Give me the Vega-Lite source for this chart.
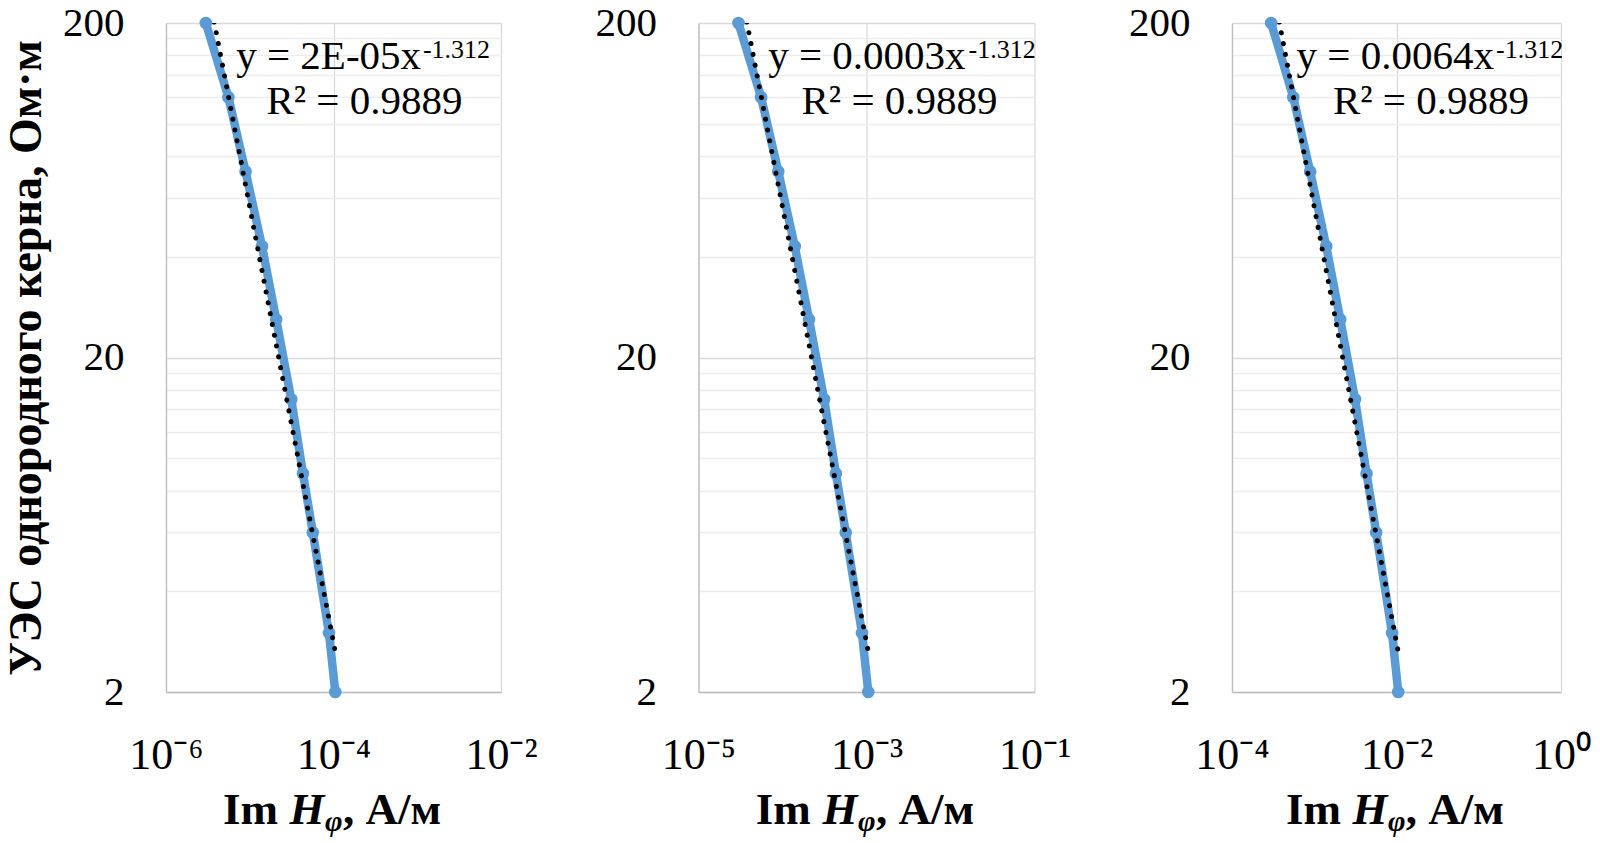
{
  "$schema": "https://vega.github.io/schema/vega-lite/v6.json",
  "padding": {"left": 3, "top": 2, "right": 5, "bottom": 4},
  "background": "#ffffff",
  "bounds": "flush",
  "spacing": 197.5,
  "datasets": {
    "p1": [
      {"im_h": 2.99e-6, "res": 200}, {"im_h": 5.56e-6, "res": 120}, {"im_h": 8.91e-6, "res": 72},
      {"im_h": 1.40e-5, "res": 43}, {"im_h": 2.07e-5, "res": 26}, {"im_h": 3.13e-5, "res": 15},
      {"im_h": 4.32e-5, "res": 9}, {"im_h": 5.66e-5, "res": 6}, {"im_h": 8.83e-5, "res": 3},
      {"im_h": 1.05e-4, "res": 2}
    ],
    "p2": [
      {"im_h": 2.99e-5, "res": 200}, {"im_h": 5.56e-5, "res": 120}, {"im_h": 8.91e-5, "res": 72},
      {"im_h": 1.40e-4, "res": 43}, {"im_h": 2.07e-4, "res": 26}, {"im_h": 3.13e-4, "res": 15},
      {"im_h": 4.32e-4, "res": 9}, {"im_h": 5.66e-4, "res": 6}, {"im_h": 8.83e-4, "res": 3},
      {"im_h": 1.05e-3, "res": 2}
    ],
    "p3": [
      {"im_h": 2.99e-4, "res": 200}, {"im_h": 5.56e-4, "res": 120}, {"im_h": 8.91e-4, "res": 72},
      {"im_h": 1.40e-3, "res": 43}, {"im_h": 2.07e-3, "res": 26}, {"im_h": 3.13e-3, "res": 15},
      {"im_h": 4.32e-3, "res": 9}, {"im_h": 5.66e-3, "res": 6}, {"im_h": 8.83e-3, "res": 3},
      {"im_h": 1.05e-2, "res": 2}
    ]
  },
  "hconcat": [
    {
      "width": 335, "height": 669,
      "layer": [
        {
          "data": {"name": "p1"},
          "mark": {"type": "line", "color": "#5B9BD5", "strokeWidth": 8.5, "point": {"filled": true, "size": 160, "color": "#5B9BD5", "opacity": 1}},
          "encoding": {
            "x": {"field": "im_h", "type": "quantitative", "scale": {"type": "log", "domain": [1e-6, 1e-2]},
              "axis": {"values": [1e-6, 1e-4, 1e-2], "grid": true, "gridColor": "#d9d9d9", "labelExpr": "datum.value < 1e-5 ? '10⁻⁶' : datum.value < 1e-3 ? '10⁻⁴' : '10⁻²'", "labelFontSize": 44, "labelPadding": 41, "labelDx": 5, "labelBaseline": "top", "title": null}},
            "y": {"field": "res", "type": "quantitative", "scale": {"type": "log", "domain": [2, 200]},
              "axis": {"values": [2, 4, 6, 8, 10, 12, 14, 16, 18, 20, 40, 60, 80, 100, 120, 140, 160, 180, 200], "grid": true,
                "gridColor": {"condition": {"test": "datum.value == 2 || datum.value == 20 || datum.value == 200", "value": "#d9d9d9"}, "value": "#ececec"},
                "labelExpr": "datum.value == 2 || datum.value == 20 || datum.value == 200 ? datum.value + '' : ''",
                "labelFontSize": 41, "labelPadding": 42, "title": "УЭС однородного керна, Ом·м", "titleFontSize": 46, "titlePadding": 12}}
          }
        },
        {
          "data": {"name": "p1"},
          "transform": [{"regression": "res", "on": "im_h", "method": "pow"}],
          "mark": {"type": "line", "color": "#000000", "strokeWidth": 5, "strokeDash": [0.1, 10.9], "strokeCap": "round", "clip": true},
          "encoding": {
            "x": {"field": "im_h", "type": "quantitative", "scale": {"type": "log", "domain": [1e-6, 1e-2]}},
            "y": {"field": "res", "type": "quantitative", "scale": {"type": "log", "domain": [2, 200]}}
          }
        },
        {
          "data": {"values": [{"t": "y = 2E-05x"}]},
          "mark": {"type": "text", "align": "right", "baseline": "alphabetic", "font": "Liberation Serif", "fontSize": 41, "color": "#000000"},
          "encoding": {"x": {"datum": 0.00111, "type": "quantitative", "scale": {"type": "log", "domain": [1e-6, 1e-2]}}, "y": {"datum": 145.7, "type": "quantitative", "scale": {"type": "log", "domain": [2, 200]}}, "text": {"field": "t"}}
        },
        {
          "data": {"values": [{"t": "-1.312"}]},
          "mark": {"type": "text", "align": "left", "baseline": "alphabetic", "font": "Liberation Serif", "fontSize": 26, "color": "#000000"},
          "encoding": {"x": {"datum": 0.00117, "type": "quantitative", "scale": {"type": "log", "domain": [1e-6, 1e-2]}}, "y": {"datum": 157.2, "type": "quantitative", "scale": {"type": "log", "domain": [2, 200]}}, "text": {"field": "t"}}
        },
        {
          "data": {"values": [{"t": "R² = 0.9889"}]},
          "mark": {"type": "text", "align": "center", "baseline": "alphabetic", "font": "Liberation Serif", "fontSize": 41, "color": "#000000"},
          "encoding": {"x": {"datum": 0.000234, "type": "quantitative", "scale": {"type": "log", "domain": [1e-6, 1e-2]}}, "y": {"datum": 106.9, "type": "quantitative", "scale": {"type": "log", "domain": [2, 200]}}, "text": {"field": "t"}}
        },
        {
          "data": {"values": [{"t": "Im"}]},
          "mark": {"type": "text", "align": "right", "baseline": "alphabetic", "font": "Liberation Serif", "fontWeight": "bold", "fontSize": 45, "color": "#000000"},
          "encoding": {"x": {"datum": 2.17e-5, "type": "quantitative", "scale": {"type": "log", "domain": [1e-6, 1e-2]}}, "y": {"datum": 0.806, "type": "quantitative", "scale": {"type": "log", "domain": [2, 200]}}, "text": {"field": "t"}}
        },
        {
          "data": {"values": [{"t": "H"}]},
          "mark": {"type": "text", "align": "left", "baseline": "alphabetic", "font": "Liberation Serif", "fontWeight": "bold", "fontStyle": "italic", "fontSize": 45, "color": "#000000"},
          "encoding": {"x": {"datum": 2.99e-5, "type": "quantitative", "scale": {"type": "log", "domain": [1e-6, 1e-2]}}, "y": {"datum": 0.806, "type": "quantitative", "scale": {"type": "log", "domain": [2, 200]}}, "text": {"field": "t"}}
        },
        {
          "data": {"values": [{"t": "φ"}]},
          "mark": {"type": "text", "align": "left", "baseline": "alphabetic", "font": "Liberation Serif", "fontWeight": "bold", "fontStyle": "italic", "fontSize": 30, "color": "#000000"},
          "encoding": {"x": {"datum": 7.91e-5, "type": "quantitative", "scale": {"type": "log", "domain": [1e-6, 1e-2]}}, "y": {"datum": 0.768, "type": "quantitative", "scale": {"type": "log", "domain": [2, 200]}}, "text": {"field": "t"}}
        },
        {
          "data": {"values": [{"t": ", А/м"}]},
          "mark": {"type": "text", "align": "left", "baseline": "alphabetic", "font": "Liberation Serif", "fontWeight": "bold", "fontSize": 45, "color": "#000000"},
          "encoding": {"x": {"datum": 1.30e-4, "type": "quantitative", "scale": {"type": "log", "domain": [1e-6, 1e-2]}}, "y": {"datum": 0.806, "type": "quantitative", "scale": {"type": "log", "domain": [2, 200]}}, "text": {"field": "t"}}
        }
      ]
    },
    {
      "width": 336, "height": 669,
      "layer": [
        {
          "data": {"name": "p2"},
          "mark": {"type": "line", "color": "#5B9BD5", "strokeWidth": 8.5, "point": {"filled": true, "size": 160, "color": "#5B9BD5", "opacity": 1}},
          "encoding": {
            "x": {"field": "im_h", "type": "quantitative", "scale": {"type": "log", "domain": [1e-5, 1e-1]},
              "axis": {"values": [1e-5, 1e-3, 1e-1], "grid": true, "gridColor": "#d9d9d9", "labelExpr": "datum.value < 1e-4 ? '10⁻⁵' : datum.value < 1e-2 ? '10⁻³' : '10⁻¹'", "labelFontSize": 44, "labelPadding": 41, "labelDx": 5, "labelBaseline": "top", "title": null}},
            "y": {"field": "res", "type": "quantitative", "scale": {"type": "log", "domain": [2, 200]},
              "axis": {"values": [2, 4, 6, 8, 10, 12, 14, 16, 18, 20, 40, 60, 80, 100, 120, 140, 160, 180, 200], "grid": true,
                "gridColor": {"condition": {"test": "datum.value == 2 || datum.value == 20 || datum.value == 200", "value": "#d9d9d9"}, "value": "#ececec"},
                "labelExpr": "datum.value == 2 || datum.value == 20 || datum.value == 200 ? datum.value + '' : ''",
                "labelFontSize": 41, "labelPadding": 42, "title": null}}
          }
        },
        {
          "data": {"name": "p2"},
          "transform": [{"regression": "res", "on": "im_h", "method": "pow"}],
          "mark": {"type": "line", "color": "#000000", "strokeWidth": 5, "strokeDash": [0.1, 10.9], "strokeCap": "round", "clip": true},
          "encoding": {
            "x": {"field": "im_h", "type": "quantitative", "scale": {"type": "log", "domain": [1e-5, 1e-1]}},
            "y": {"field": "res", "type": "quantitative", "scale": {"type": "log", "domain": [2, 200]}}
          }
        },
        {
          "data": {"values": [{"t": "y = 0.0003x"}]},
          "mark": {"type": "text", "align": "right", "baseline": "alphabetic", "font": "Liberation Serif", "fontSize": 41, "color": "#000000"},
          "encoding": {"x": {"datum": 0.0151, "type": "quantitative", "scale": {"type": "log", "domain": [1e-5, 1e-1]}}, "y": {"datum": 145.7, "type": "quantitative", "scale": {"type": "log", "domain": [2, 200]}}, "text": {"field": "t"}}
        },
        {
          "data": {"values": [{"t": "-1.312"}]},
          "mark": {"type": "text", "align": "left", "baseline": "alphabetic", "font": "Liberation Serif", "fontSize": 26, "color": "#000000"},
          "encoding": {"x": {"datum": 0.0164, "type": "quantitative", "scale": {"type": "log", "domain": [1e-5, 1e-1]}}, "y": {"datum": 157.2, "type": "quantitative", "scale": {"type": "log", "domain": [2, 200]}}, "text": {"field": "t"}}
        },
        {
          "data": {"values": [{"t": "R² = 0.9889"}]},
          "mark": {"type": "text", "align": "center", "baseline": "alphabetic", "font": "Liberation Serif", "fontSize": 41, "color": "#000000"},
          "encoding": {"x": {"datum": 0.00247, "type": "quantitative", "scale": {"type": "log", "domain": [1e-5, 1e-1]}}, "y": {"datum": 106.9, "type": "quantitative", "scale": {"type": "log", "domain": [2, 200]}}, "text": {"field": "t"}}
        },
        {
          "data": {"values": [{"t": "Im"}]},
          "mark": {"type": "text", "align": "right", "baseline": "alphabetic", "font": "Liberation Serif", "fontWeight": "bold", "fontSize": 45, "color": "#000000"},
          "encoding": {"x": {"datum": 2.17e-4, "type": "quantitative", "scale": {"type": "log", "domain": [1e-5, 1e-1]}}, "y": {"datum": 0.806, "type": "quantitative", "scale": {"type": "log", "domain": [2, 200]}}, "text": {"field": "t"}}
        },
        {
          "data": {"values": [{"t": "H"}]},
          "mark": {"type": "text", "align": "left", "baseline": "alphabetic", "font": "Liberation Serif", "fontWeight": "bold", "fontStyle": "italic", "fontSize": 45, "color": "#000000"},
          "encoding": {"x": {"datum": 2.99e-4, "type": "quantitative", "scale": {"type": "log", "domain": [1e-5, 1e-1]}}, "y": {"datum": 0.806, "type": "quantitative", "scale": {"type": "log", "domain": [2, 200]}}, "text": {"field": "t"}}
        },
        {
          "data": {"values": [{"t": "φ"}]},
          "mark": {"type": "text", "align": "left", "baseline": "alphabetic", "font": "Liberation Serif", "fontWeight": "bold", "fontStyle": "italic", "fontSize": 30, "color": "#000000"},
          "encoding": {"x": {"datum": 7.91e-4, "type": "quantitative", "scale": {"type": "log", "domain": [1e-5, 1e-1]}}, "y": {"datum": 0.768, "type": "quantitative", "scale": {"type": "log", "domain": [2, 200]}}, "text": {"field": "t"}}
        },
        {
          "data": {"values": [{"t": ", А/м"}]},
          "mark": {"type": "text", "align": "left", "baseline": "alphabetic", "font": "Liberation Serif", "fontWeight": "bold", "fontSize": 45, "color": "#000000"},
          "encoding": {"x": {"datum": 1.30e-3, "type": "quantitative", "scale": {"type": "log", "domain": [1e-5, 1e-1]}}, "y": {"datum": 0.806, "type": "quantitative", "scale": {"type": "log", "domain": [2, 200]}}, "text": {"field": "t"}}
        }
      ]
    },
    {
      "width": 329, "height": 669,
      "layer": [
        {
          "data": {"name": "p3"},
          "mark": {"type": "line", "color": "#5B9BD5", "strokeWidth": 8.5, "point": {"filled": true, "size": 160, "color": "#5B9BD5", "opacity": 1}},
          "encoding": {
            "x": {"field": "im_h", "type": "quantitative", "scale": {"type": "log", "domain": [1e-4, 1]},
              "axis": {"values": [1e-4, 1e-2, 1], "grid": true, "gridColor": "#d9d9d9", "labelExpr": "datum.value < 1e-3 ? '10⁻⁴' : datum.value < 0.1 ? '10⁻²' : '10⁰'", "labelFontSize": 44, "labelPadding": 41, "labelDx": 5, "labelBaseline": "top", "title": null}},
            "y": {"field": "res", "type": "quantitative", "scale": {"type": "log", "domain": [2, 200]},
              "axis": {"values": [2, 4, 6, 8, 10, 12, 14, 16, 18, 20, 40, 60, 80, 100, 120, 140, 160, 180, 200], "grid": true,
                "gridColor": {"condition": {"test": "datum.value == 2 || datum.value == 20 || datum.value == 200", "value": "#d9d9d9"}, "value": "#ececec"},
                "labelExpr": "datum.value == 2 || datum.value == 20 || datum.value == 200 ? datum.value + '' : ''",
                "labelFontSize": 41, "labelPadding": 42, "title": null}}
          }
        },
        {
          "data": {"name": "p3"},
          "transform": [{"regression": "res", "on": "im_h", "method": "pow"}],
          "mark": {"type": "line", "color": "#000000", "strokeWidth": 5, "strokeDash": [0.1, 10.9], "strokeCap": "round", "clip": true},
          "encoding": {
            "x": {"field": "im_h", "type": "quantitative", "scale": {"type": "log", "domain": [1e-4, 1]}},
            "y": {"field": "res", "type": "quantitative", "scale": {"type": "log", "domain": [2, 200]}}
          }
        },
        {
          "data": {"values": [{"t": "y = 0.0064x"}]},
          "mark": {"type": "text", "align": "right", "baseline": "alphabetic", "font": "Liberation Serif", "fontSize": 41, "color": "#000000"},
          "encoding": {"x": {"datum": 0.153, "type": "quantitative", "scale": {"type": "log", "domain": [1e-4, 1]}}, "y": {"datum": 145.7, "type": "quantitative", "scale": {"type": "log", "domain": [2, 200]}}, "text": {"field": "t"}}
        },
        {
          "data": {"values": [{"t": "-1.312"}]},
          "mark": {"type": "text", "align": "left", "baseline": "alphabetic", "font": "Liberation Serif", "fontSize": 26, "color": "#000000"},
          "encoding": {"x": {"datum": 0.162, "type": "quantitative", "scale": {"type": "log", "domain": [1e-4, 1]}}, "y": {"datum": 157.2, "type": "quantitative", "scale": {"type": "log", "domain": [2, 200]}}, "text": {"field": "t"}}
        },
        {
          "data": {"values": [{"t": "R² = 0.9889"}]},
          "mark": {"type": "text", "align": "center", "baseline": "alphabetic", "font": "Liberation Serif", "fontSize": 41, "color": "#000000"},
          "encoding": {"x": {"datum": 0.0262, "type": "quantitative", "scale": {"type": "log", "domain": [1e-4, 1]}}, "y": {"datum": 106.9, "type": "quantitative", "scale": {"type": "log", "domain": [2, 200]}}, "text": {"field": "t"}}
        },
        {
          "data": {"values": [{"t": "Im"}]},
          "mark": {"type": "text", "align": "right", "baseline": "alphabetic", "font": "Liberation Serif", "fontWeight": "bold", "fontSize": 45, "color": "#000000"},
          "encoding": {"x": {"datum": 2.11e-3, "type": "quantitative", "scale": {"type": "log", "domain": [1e-4, 1]}}, "y": {"datum": 0.806, "type": "quantitative", "scale": {"type": "log", "domain": [2, 200]}}, "text": {"field": "t"}}
        },
        {
          "data": {"values": [{"t": "H"}]},
          "mark": {"type": "text", "align": "left", "baseline": "alphabetic", "font": "Liberation Serif", "fontWeight": "bold", "fontStyle": "italic", "fontSize": 45, "color": "#000000"},
          "encoding": {"x": {"datum": 2.92e-3, "type": "quantitative", "scale": {"type": "log", "domain": [1e-4, 1]}}, "y": {"datum": 0.806, "type": "quantitative", "scale": {"type": "log", "domain": [2, 200]}}, "text": {"field": "t"}}
        },
        {
          "data": {"values": [{"t": "φ"}]},
          "mark": {"type": "text", "align": "left", "baseline": "alphabetic", "font": "Liberation Serif", "fontWeight": "bold", "fontStyle": "italic", "fontSize": 30, "color": "#000000"},
          "encoding": {"x": {"datum": 7.89e-3, "type": "quantitative", "scale": {"type": "log", "domain": [1e-4, 1]}}, "y": {"datum": 0.768, "type": "quantitative", "scale": {"type": "log", "domain": [2, 200]}}, "text": {"field": "t"}}
        },
        {
          "data": {"values": [{"t": ", А/м"}]},
          "mark": {"type": "text", "align": "left", "baseline": "alphabetic", "font": "Liberation Serif", "fontWeight": "bold", "fontSize": 45, "color": "#000000"},
          "encoding": {"x": {"datum": 1.30e-2, "type": "quantitative", "scale": {"type": "log", "domain": [1e-4, 1]}}, "y": {"datum": 0.806, "type": "quantitative", "scale": {"type": "log", "domain": [2, 200]}}, "text": {"field": "t"}}
        }
      ]
    }
  ],
  "config": {
    "view": {"stroke": null},
    "axis": {
      "ticks": false, "tickSize": 0,
      "domainColor": "#bfbfbf", "domainWidth": 1.3, "gridWidth": 1.3,
      "labelFont": "Liberation Serif", "labelColor": "#000000",
      "labelFlush": false, "labelOverlap": false, "labelBound": false,
      "titleFont": "Liberation Serif", "titleColor": "#000000", "titleFontWeight": "bold"
    }
  }
}
